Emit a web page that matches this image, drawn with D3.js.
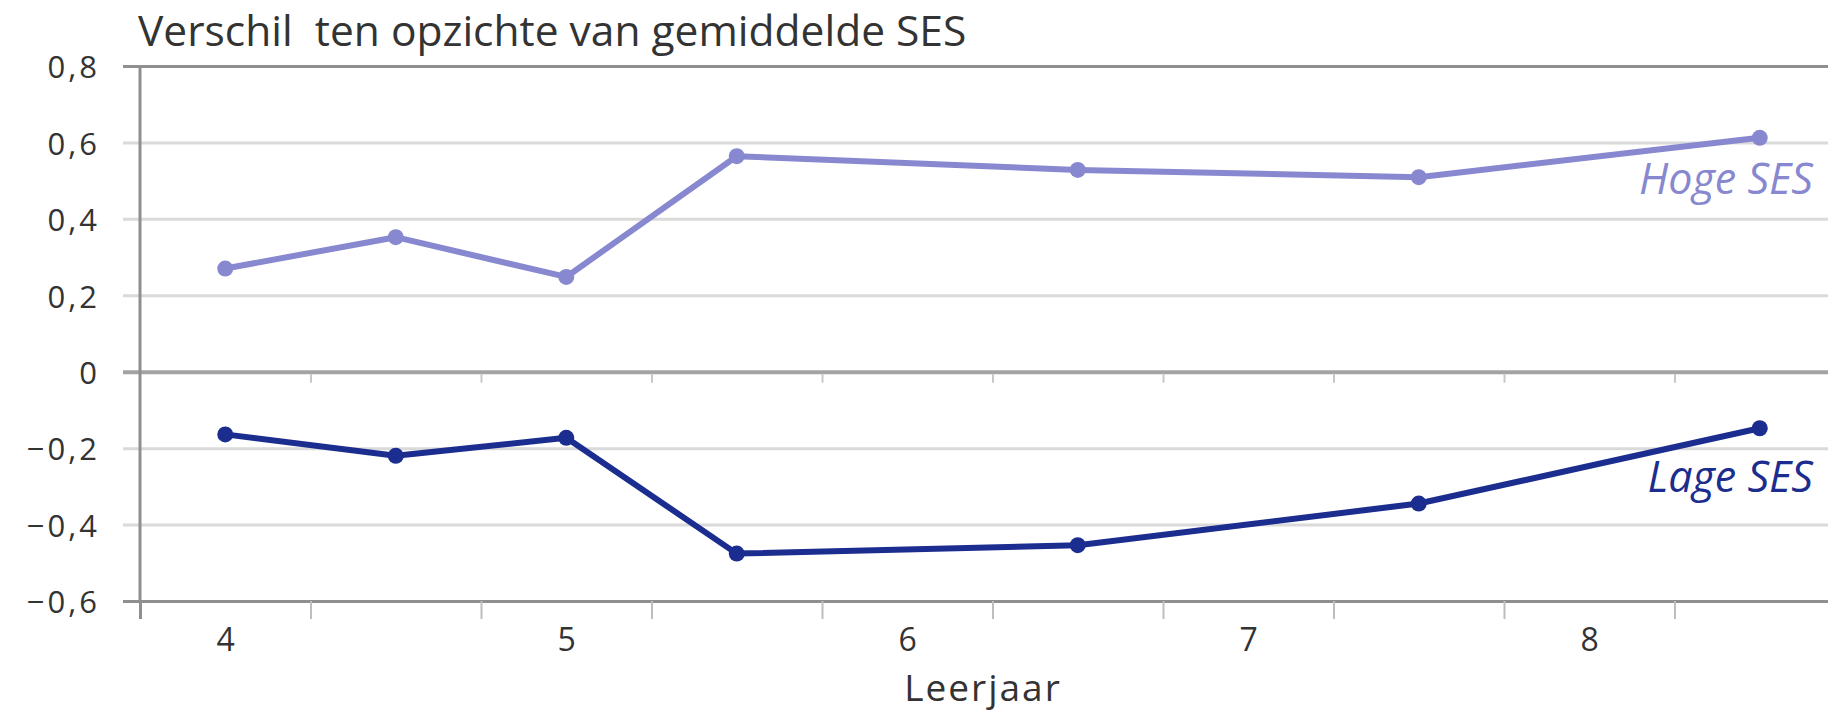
<!DOCTYPE html>
<html>
<head>
<meta charset="utf-8">
<script src="https://cdn.jsdelivr.net/npm/d3@7"></script>
<style>
  body { margin: 0; background: #fff; }
  svg { display: block; font-family: 'Open Sans', sans-serif; }
</style>
</head>
<body>
<svg width="1828" height="716"></svg>
<script>
// Leerjaar (school year) of each measurement, halfway points included
const leerjaar = [4, 4.5, 5, 5.5, 6.5, 7.5, 8.5];
const hogeSES = [0.27, 0.352, 0.248, 0.564, 0.528, 0.509, 0.612];
const lageSES = [-0.164, -0.22, -0.173, -0.476, -0.454, -0.345, -0.148];

const yTicks = [-0.6, -0.4, -0.2, 0, 0.2, 0.4, 0.6, 0.8];
const xTicks = [3.75, 4.25, 4.75, 5.25, 5.75, 6.25, 6.75, 7.25, 7.75, 8.25];
const xLabels = [4, 5, 6, 7, 8];

const series = [
  { name: 'Hoge SES', values: hogeSES, color: '#8888d0' },
  { name: 'Lage SES', values: lageSES, color: '#1b2d8e' },
];

const width = 1828;
const FONT = "'Open Sans', sans-serif";
const svg = d3.select('svg');

const x = d3.scaleLinear([3.75, 8.75], [140, 1845]);
const y = d3.scaleLinear([-0.6, 0.8], [601, 66]);

const nl = d3.formatLocale({ decimal: ',', thousands: '.', grouping: [3], currency: ['€', ''], minus: '\u2212' });
const fmt = nl.format('.1f');

// Title
svg.append('text')
  .attr('x', 138)
  .attr('y', 46)
  .attr('fill', '#333')
  .style('font-size', '42.5px')
  .style('white-space', 'pre')
  .text('Verschil  ten opzichte van gemiddelde SES');

// Horizontal grid + y labels
const yAxis = svg.append('g')
  .attr('transform', 'translate(123,0)')
  .attr('font-family', FONT)
  .call(d3.axisLeft(y)
    .tickValues(yTicks)
    .tickSize(-(width - 123))
    .tickPadding(23)
    .tickFormat((d) => (d === 0 ? '0' : fmt(d))));

yAxis.attr('font-family', FONT);
yAxis.select('.domain').remove();
yAxis.selectAll('.tick line')
  .attr('stroke', (d) => (d === 0 ? '#a3a3a3' : (d === 0.8 || d === -0.6) ? '#8f8f8f' : '#dadada'))
  .attr('stroke-width', (d) => (d === 0 ? 4 : 3));
yAxis.selectAll('.tick text')
  .attr('fill', '#333')
  .attr('dy', '0.38em')
  .style('font-size', '31px')
  .style('letter-spacing', '3px');

// Small ticks under the zero line
const zeroTicks = svg.append('g')
  .attr('transform', `translate(0,${y(0) + 2})`)
  .call(d3.axisBottom(x).tickValues(xTicks.slice(1)).tickSize(9).tickFormat(''));
zeroTicks.select('.domain').remove();
zeroTicks.selectAll('.tick line').attr('stroke', '#c8c8c8').attr('stroke-width', 2);

// Bottom ticks
const xAxis = svg.append('g')
  .attr('transform', `translate(0,${y(-0.6)})`)
  .call(d3.axisBottom(x).tickValues(xTicks).tickSize(18).tickFormat(''));
xAxis.select('.domain').remove();
xAxis.selectAll('.tick line')
  .attr('stroke', (d) => (d === 3.75 ? '#8f8f8f' : '#bdbdbd'))
  .attr('stroke-width', (d) => (d === 3.75 ? 3 : 2));

// x labels (between the ticks)
const xLab = svg.append('g')
  .attr('transform', `translate(0,${y(-0.6)})`)
  .call(d3.axisBottom(x).tickValues(xLabels).tickSize(0).tickPadding(27).tickFormat(d3.format('d')));
xLab.attr('font-family', FONT);
xLab.select('.domain').remove();
xLab.selectAll('.tick text')
  .attr('fill', '#333')
  .style('font-size', '32px');

// Left axis line
svg.append('line')
  .attr('x1', x(3.75)).attr('x2', x(3.75))
  .attr('y1', y(0.8)).attr('y2', y(-0.6))
  .attr('stroke', '#8f8f8f')
  .attr('stroke-width', 3);

svg.append('text')
  .attr('x', 983)
  .attr('y', 701)
  .attr('text-anchor', 'middle')
  .attr('fill', '#333')
  .style('font-size', '37px')
  .style('letter-spacing', '2px')
  .text('Leerjaar');

// Lines
const line = d3.line()
  .x((d, i) => x(leerjaar[i]))
  .y((d) => y(d));

const g = svg.append('g')
  .selectAll('g')
  .data(series)
  .join('g');

g.append('path')
  .attr('fill', 'none')
  .attr('stroke', (d) => d.color)
  .attr('stroke-width', 6)
  .attr('stroke-linejoin', 'round')
  .attr('d', (d) => line(d.values));

g.selectAll('circle')
  .data((d) => d.values.map((v, i) => ({ v, i, color: d.color })))
  .join('circle')
    .attr('cx', (d) => x(leerjaar[d.i]))
    .attr('cy', (d) => y(d.v))
    .attr('r', 8)
    .attr('fill', (d) => d.color);

// Series labels
svg.append('g')
  .selectAll('text')
  .data(series)
  .join('text')
    .attr('x', 1813)
    .attr('y', (d, i) => (i === 0 ? 194 : 492))
    .attr('text-anchor', 'end')
    .attr('fill', (d) => d.color)
    .style('font-size', '43px')
    .style('font-style', 'italic')
    .text((d) => d.name);
</script>
</body>
</html>
